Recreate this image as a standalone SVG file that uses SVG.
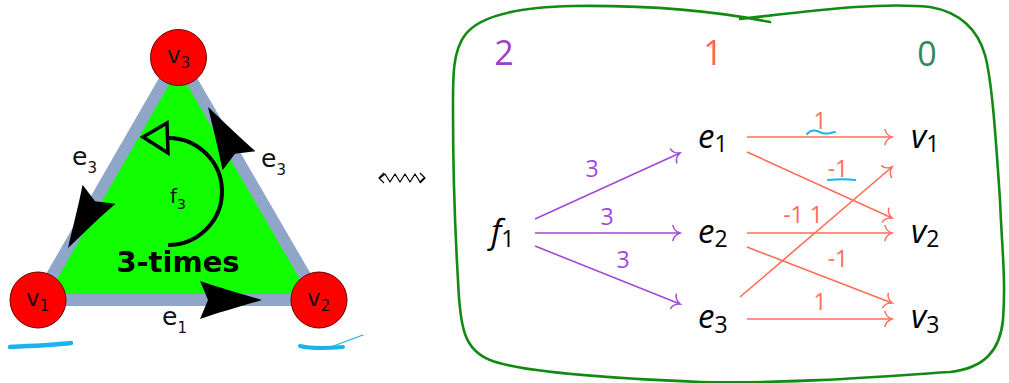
<svg xmlns="http://www.w3.org/2000/svg" width="1009" height="383" viewBox="0 0 1009 383">
<style>
.lbl{font-family:"DejaVu Sans",sans-serif;fill:#111}
.m{font-family:"Open Sans","DejaVu Sans",sans-serif;font-style:italic;font-size:33px;fill:#000}
.ms{font-size:23px;font-style:normal}
.hdr{font-family:"Open Sans","Liberation Sans",sans-serif;font-size:34px;text-anchor:middle}
.num{font-family:"Open Sans","Liberation Sans",sans-serif;font-size:23px;text-anchor:middle}
.pa{stroke:#a048dc;stroke-width:1.6;fill:none;marker-end:url(#mp)}
.oa{stroke:#ff6d58;stroke-width:1.6;fill:none;marker-end:url(#mo)}
.vc{fill:#ff0000;stroke:#6b0000;stroke-width:1}
.blue{stroke:#1ab2ef;fill:none;stroke-linecap:round}
.ah{fill:#000}
</style>
<defs>
<marker id="mp" markerUnits="userSpaceOnUse" markerWidth="20" markerHeight="20" viewBox="-10 -10 20 20" refX="0" refY="0" orient="auto">
<path d="M-7,-7.5 C-6.5,-4 -3,-1 0,0 C-3,1 -6.5,4 -7,7.5" fill="none" stroke="#a048dc" stroke-width="1.6" stroke-linecap="round"/>
</marker>
<marker id="mo" markerUnits="userSpaceOnUse" markerWidth="20" markerHeight="20" viewBox="-10 -10 20 20" refX="0" refY="0" orient="auto">
<path d="M-7,-7.5 C-6.5,-4 -3,-1 0,0 C-3,1 -6.5,4 -7,7.5" fill="none" stroke="#ff6d58" stroke-width="1.6" stroke-linecap="round"/>
</marker>
<path id="bigah" d="M0,0 C-20,-6 -45,-13 -62,-19 L-54,0 L-62,19 C-45,13 -20,6 0,0 Z"/>
</defs>

<!-- Left: simplex -->
<g id="face-f3">
<polygon points="178,57 38,300 319,300" fill="#11ff00" stroke="#8fa6c9" stroke-width="12" stroke-linejoin="miter"/>
<path d="M168,245 A54,53.5 0 0 0 168,138" fill="none" stroke="#000" stroke-width="4"/>
<polygon points="143,137 167,123 168,153" fill="none" stroke="#000" stroke-width="3.5" stroke-linejoin="miter"/>
<text class="lbl" x="170" y="203" font-size="20">f<tspan font-size="14" dy="6">3</tspan></text>
<text x="178" y="272" font-family="DejaVu Sans,sans-serif" font-weight="bold" font-size="29" text-anchor="middle" fill="#000">3-times</text>
</g>
<g id="edge-arrows">
<use href="#bigah" class="ah" transform="translate(262,300)"/>
<use href="#bigah" class="ah" transform="translate(68,248) rotate(120)"/>
<use href="#bigah" class="ah" transform="translate(208,107) rotate(-120)"/>
<text class="lbl" x="72" y="165" font-size="25">e<tspan font-size="15" dy="8">3</tspan></text>
<text class="lbl" x="261" y="167" font-size="25">e<tspan font-size="15" dy="8">3</tspan></text>
<text class="lbl" x="162" y="325" font-size="25">e<tspan font-size="15" dy="8">1</tspan></text>
</g>
<g id="v3">
<circle class="vc" cx="178.5" cy="57.5" r="28"/>
<text class="lbl" x="167" y="63" font-size="23">v<tspan font-size="15" dy="5">3</tspan></text>
</g>
<g id="v1">
<circle class="vc" cx="38" cy="300" r="28"/>
<text class="lbl" x="26" y="306" font-size="23">v<tspan font-size="15" dy="5">1</tspan></text>
</g>
<g id="v2">
<circle class="vc" cx="319" cy="300" r="28"/>
<text class="lbl" x="307" y="306" font-size="23">v<tspan font-size="15" dy="5">2</tspan></text>
</g>
<g id="marks-left">
<path class="blue" d="M10,347 C30,346 55,345 71,343" stroke-width="4.5"/>
<path class="blue" d="M300,346 C312,349 330,348 343,347" stroke-width="4"/>
<path class="blue" d="M328,348 L363,335" stroke-width="1.2"/>
</g>

<!-- squiggle arrow -->
<g id="squiggle" fill="none" stroke="#000" stroke-width="1.2" stroke-linejoin="round">
<path d="M380,178 L385,174 L390,182 L395,174 L400,182 L405,174 L410,182 L415,174 L420,182 L424,178"/>
<path d="M384,173 L379,178 L384,183"/>
<path d="M420,173 L425,178 L420,183"/>
</g>

<!-- Right: chain complex -->
<g id="frame">
<path d="M770,22 C720,12 650,5 573,6 C520,7 480,15 465,35 C452,52 453,80 453,110 C453,170 455,230 458,280 C460,330 465,350 490,360 C520,372 600,378 700,382 C800,384 900,375 950,372 C985,368 1000,350 1003,320 C1006,280 1002,250 1000,200 C996,140 992,80 985,55 C978,30 960,12 930,7 C880,2 820,10 740,19" fill="none" stroke="#138a13" stroke-width="2.6" stroke-linecap="round"/>
</g>
<g id="headers">
<text class="hdr" x="504" y="65" fill="#9b3fcf">2</text>
<text class="hdr" x="713" y="65" fill="#ff6650">1</text>
<text class="hdr" x="927" y="66" fill="#2e8b57">0</text>
</g>
<g id="f1"><text class="m" x="491" y="243">f<tspan class="ms" dy="4">1</tspan></text></g>
<g id="e1"><text class="m" x="698" y="148">e<tspan class="ms" dy="4">1</tspan></text></g>
<g id="e2"><text class="m" x="698" y="243">e<tspan class="ms" dy="4">2</tspan></text></g>
<g id="e3"><text class="m" x="698" y="328">e<tspan class="ms" dy="5">3</tspan></text></g>
<g id="rv1"><text class="m" x="911" y="148">v<tspan class="ms" dy="4">1</tspan></text></g>
<g id="rv2"><text class="m" x="911" y="243">v<tspan class="ms" dy="4">2</tspan></text></g>
<g id="rv3"><text class="m" x="911" y="328">v<tspan class="ms" dy="5">3</tspan></text></g>

<g id="connectors">
<path class="pa" d="M535,219 L680,153"/>
<path class="pa" d="M535,233 L680,233"/>
<path class="pa" d="M535,246 L680,304"/>
<path class="oa" d="M747,137 L892,137"/>
<path class="oa" d="M747,152 L892,218"/>
<path class="oa" d="M747,233 L892,233"/>
<path class="oa" d="M747,247 L892,303"/>
<path class="oa" d="M740,297 L892,167"/>
<path class="oa" d="M747,319 L892,319"/>
</g>
<g id="weights">
<text class="num" x="592" y="177" fill="#a048dc">3</text>
<text class="num" x="607" y="225" fill="#a048dc">3</text>
<text class="num" x="623" y="268" fill="#a048dc">3</text>
<text class="num" x="820" y="129" fill="#ff6d58">1</text>
<text class="num" x="838" y="177" fill="#ff6d58">-1</text>
<text class="num" x="803" y="223" fill="#ff6d58">-1 1</text>
<text class="num" x="838" y="267" fill="#ff6d58">-1</text>
<text class="num" x="820" y="310" fill="#ff6d58">1</text>
<path class="blue" d="M807,134 C812,128 818,131 822,133 C828,135 832,132 835,132" stroke-width="2"/>
<path class="blue" d="M828,180 C838,179 848,179 855,180" stroke-width="2"/>
</g>
</svg>
